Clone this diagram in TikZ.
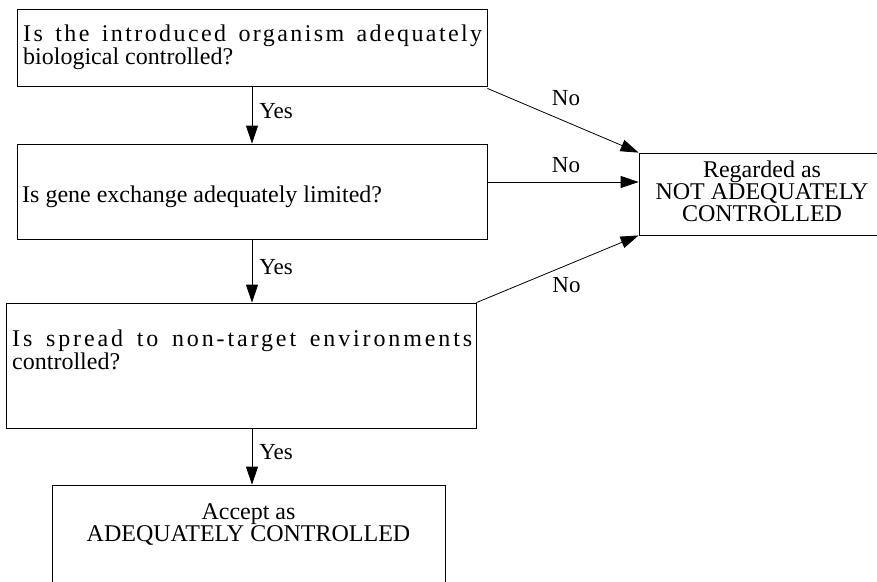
\documentclass[tikz,border=0pt]{standalone}
\usepackage{fontspec}
\setmainfont{Liberation Serif}
\usetikzlibrary{arrows.meta}

\tikzset{
  box/.style={draw, line width=0.8pt, inner sep=0pt},
  txt/.style={inner sep=0pt, anchor=base west, align=left, font=\fontsize{24}{21.5}\selectfont},
  ctxt/.style={inner sep=0pt, anchor=base, align=center, font=\fontsize{24}{22}\selectfont},
  arr/.style={line width=0.8pt, -{Triangle[length=18pt,width=12pt]}},
  lbl/.style={inner sep=0pt, font=\fontsize{23}{23}\selectfont}
}

\begin{document}
\begin{tikzpicture}[x=1pt,y=-1pt]
    \clip (0,0) rectangle (877,581);

    % boxes
    \node[box, minimum width=470pt, minimum height=77pt] (q1) at (252,47.5) {};
    \node[box, minimum width=470pt, minimum height=95pt] (q2) at (252,191.5) {};
    \node[box, minimum width=470pt, minimum height=125pt] (q3) at (241,365.5) {};
    \node[box, minimum width=393pt, minimum height=130pt] (ok) at (248.5,550) {};
    \node[box, minimum width=246pt, minimum height=82pt] (no) at (762,194) {};

    % texts (base = last line)
    \node[txt] (t1) at (23,64) {\makebox[459pt][s]{\addfontfeature{LetterSpace=10}Is the introduced organism adequately}\\biological controlled?};
    \node[txt] (t2) at (22,202) {Is gene exchange adequately limited?};
    \node[txt] (t3) at (12,369) {\makebox[460pt][s]{\addfontfeature{LetterSpace=12}Is spread to non-target environments}\\controlled?};
    \node[ctxt] (t4) at (248.5,541) {Accept as\\ADEQUATELY CONTROLLED};
    \node[ctxt] (t5) at (762,221) {Regarded as\\NOT ADEQUATELY\\CONTROLLED};

    % yes
    \draw[arr] (q1.south) -- (q2.north) node[lbl, midway, anchor=west, xshift=7pt, yshift=4pt] {Yes};
    \draw[arr] (q2.south) -- (q3.north -| q2.south) node[lbl, midway, anchor=west, xshift=7pt, yshift=4pt] {Yes};
    \draw[arr] (q3.south -| q2.south) -- (ok.north -| q2.south) node[lbl, midway, anchor=west, xshift=7pt, yshift=4pt] {Yes};

    % no
    \draw[arr] ([yshift=-2pt]q1.south east) -- (no.north west) node[lbl, midway, above=14pt, xshift=3pt] {No};
    \draw[arr] ([yshift=9.5pt]q2.east) -- ([yshift=9.5pt]q2.east -| no.west) node[lbl, midway, above=9pt, xshift=3pt] {No};
    \draw[arr] (q3.north east) -- (no.south west) node[lbl, midway, below=8pt, xshift=9pt] {No};
\end{tikzpicture}
\end{document}
